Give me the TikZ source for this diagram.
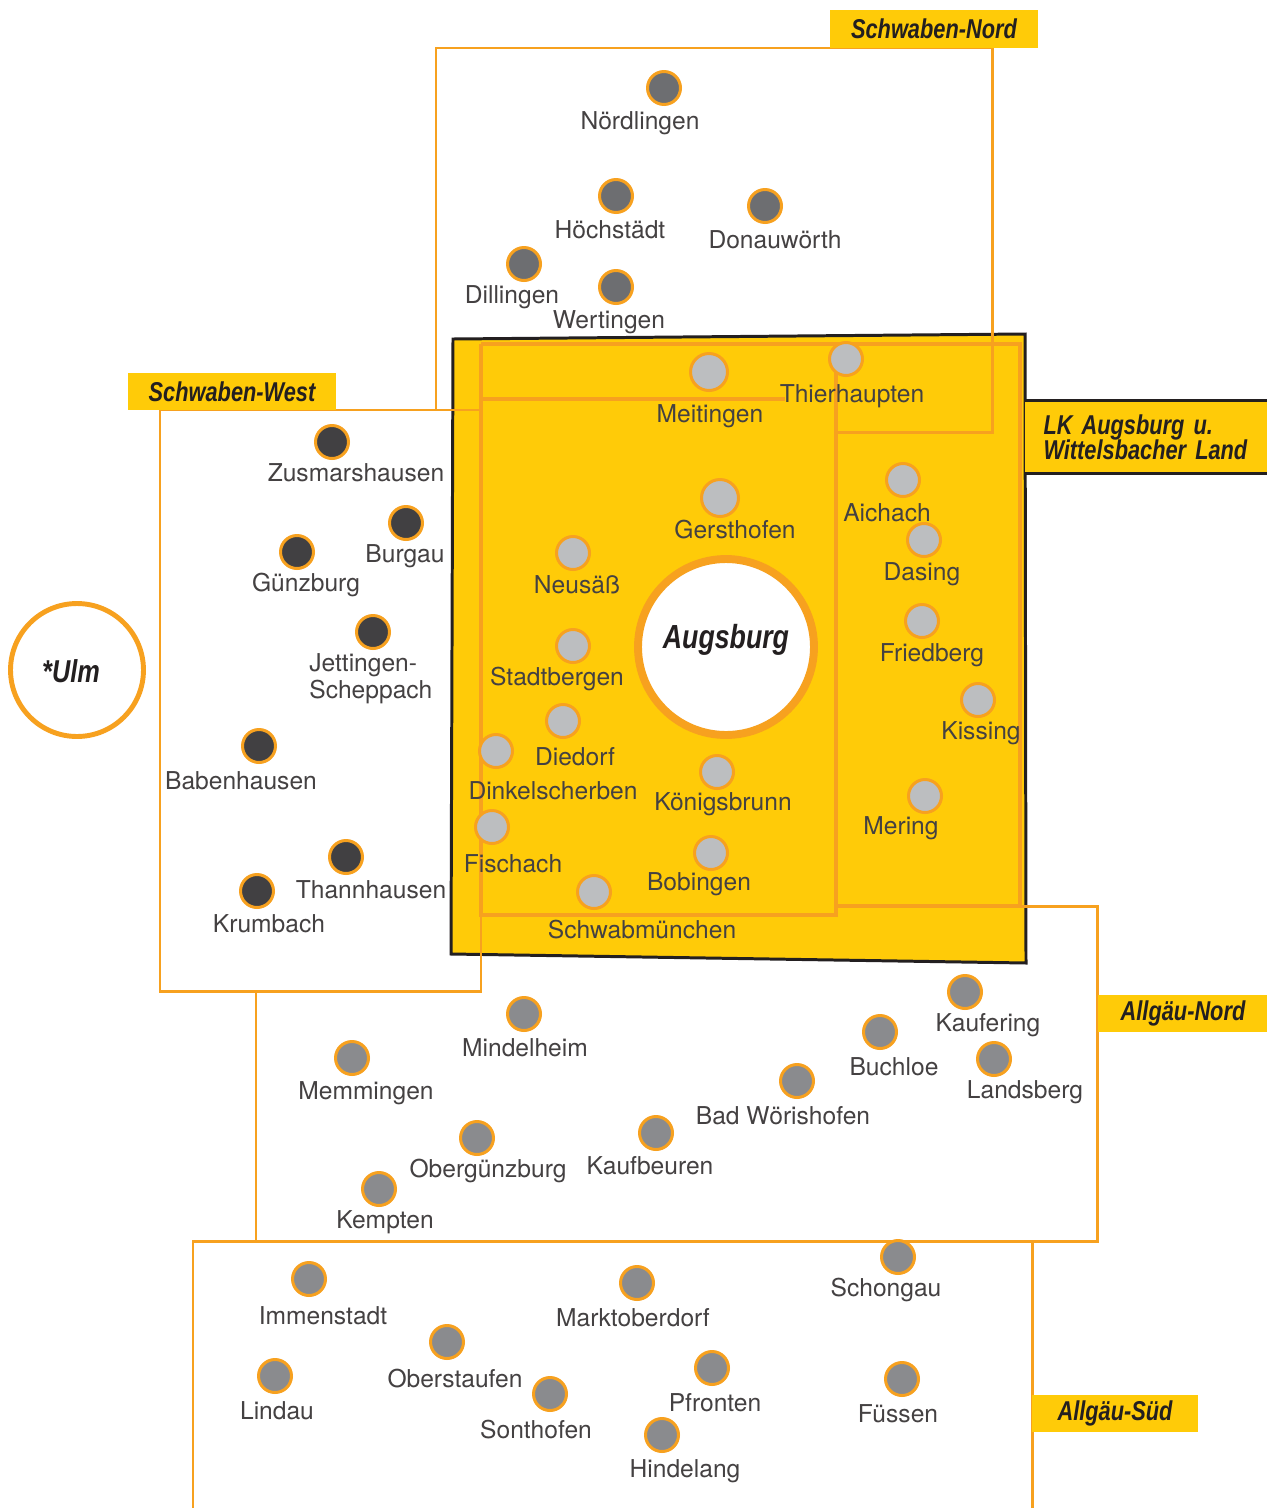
\documentclass[tikz,border=0pt]{standalone}
\usepackage{fontspec}
\setmainfont{TeX Gyre Heros}
\newfontfamily\regionfont[FakeStretch=0.8]{Liberation Sans}
\definecolor{lkyellow}{HTML}{FFCB08}
\definecolor{lkorange}{HTML}{F7A11F}
\definecolor{inkblack}{HTML}{231F20}
\definecolor{nordgrey}{HTML}{6D6E71}
\definecolor{westgrey}{HTML}{414042}
\definecolor{allgaeugrey}{HTML}{8A8B8E}
\definecolor{lkgrey}{HTML}{BCBEC0}
\tikzset{
  townpt/.style = {circle, draw=lkorange, line width=1.7pt, minimum size=0.66cm, inner sep=0pt},
  nordpt/.style = {townpt, fill=nordgrey},
  westpt/.style = {townpt, fill=westgrey},
  lkpt/.style = {townpt, fill=lkgrey},
  allgaeupt/.style = {townpt, fill=allgaeugrey},
  townlbl/.style = {text=inkblack!85, font=\fontsize{14}{15.3}\selectfont, inner sep=0pt, yshift=-1pt},
  regionlbl/.style = {fill=lkyellow, text=inkblack, inner sep=0pt,
    font=\regionfont\bfseries\itshape\fontsize{15.5}{17}\selectfont},
  thinline/.style = {draw=lkorange, line width=1.7pt},
  thickline/.style = {draw=lkorange, line width=2.8pt}
}
\begin{document}
\begin{tikzpicture}[x=0.02cm, y=-0.02cm]
  \fill[white] (0,0) rectangle (1267,1508);
  \useasboundingbox (0,0) rectangle (1267,1508);

  \fill[lkyellow, draw=inkblack, line width=1.7pt] (453,339) -- (1025,334) -- (1026,963) -- (451,954) -- cycle;
  \draw[thickline] (481,344) -- (1020,344) -- (1020,906) -- (836,906);
  \draw[thickline] (836,344) -- (836,915) -- (481,915) -- (481,344);
  \draw[thickline] (481,399) -- (785,399);

  \draw[thinline] (436,410) -- (436,48) -- (992,48) -- (992,432) -- (836,432);
  \draw[thinline] (160,410) rectangle (481,991);
  \draw[thinline] (256,991) -- (256,1241) -- (1097,1241) -- (1097,906) -- (1020,906);
  \draw[thinline] (193,1508) -- (193,1241) -- (1032,1241) -- (1032,1508);

  \node[regionlbl, minimum width=4.16cm, minimum height=0.76cm] (nord) at (934,29) {Schwaben-Nord};
  \node[regionlbl, minimum width=4.16cm, minimum height=0.74cm] (west) at (232,391.5) {Schwaben-West};
  \node[regionlbl, minimum width=4.84cm, minimum height=1.44cm, align=left, text width=4.1cm] (lk) at (1146,437) {LK Augsburg u.\\[-3pt]Wittelsbacher Land};
  \draw[inkblack, line width=1.7pt] (lk.north west) -- (lk.north east);
  \draw[inkblack, line width=1.7pt] (lk.south west) -- (lk.south east);
  \node[regionlbl, minimum width=3.4cm, minimum height=0.74cm] (anord) at (1183,1013.5) {Allgäu-Nord};
  \node[regionlbl, minimum width=3.32cm, minimum height=0.74cm] (asued) at (1115,1413.5) {Allgäu-Süd};

  \node[circle, draw=lkorange, fill=white, line width=4.5pt, minimum size=3.52cm] (augsburg) at (726,647) {};
  \node[regionlbl, fill=none, font=\regionfont\bfseries\itshape\fontsize{19}{21}\selectfont] (augsburg txt) at (726,640) {Augsburg};
  \node[circle, draw=lkorange, line width=2.8pt, minimum size=2.66cm] (ulm) at (77,670) {};
  \node[regionlbl, fill=none, font=\regionfont\bfseries\itshape\fontsize{18}{20}\selectfont] (ulm txt) at (71,671) {*Ulm};

  \node[nordpt] (noerdlingen) at (664,88) {};
  \node[nordpt] (hoechstaedt) at (616,196) {};
  \node[nordpt] (donauwoerth) at (765,206) {};
  \node[nordpt] (dillingen) at (524,264) {};
  \node[nordpt] (wertingen) at (616,287) {};
  \node[townlbl] (noerdlingen txt) at (640,121) {Nördlingen};
  \node[townlbl] (hoechstaedt txt) at (610,228) {Höchstädt};
  \node[townlbl] (donauwoerth txt) at (775,238) {Donauwörth};
  \node[townlbl] (dillingen txt) at (512,295) {Dillingen};
  \node[townlbl] (wertingen txt) at (609,320) {Wertingen};

  \node[lkpt, minimum size=0.74cm] (meitingen) at (709,372) {};
  \node[lkpt] (thierhaupten) at (846,359) {};
  \node[lkpt, minimum size=0.74cm] (gersthofen) at (720,498) {};
  \node[lkpt] (aichach) at (903,480) {};
  \node[lkpt] (dasing) at (924,540) {};
  \node[lkpt] (neusaess) at (573,553) {};
  \node[lkpt] (friedberg) at (922,621) {};
  \node[lkpt] (stadtbergen) at (573,646) {};
  \node[lkpt] (kissing) at (978,700) {};
  \node[lkpt] (diedorf) at (563,721) {};
  \node[lkpt] (dinkelscherben) at (496,751) {};
  \node[lkpt] (koenigsbrunn) at (717,772) {};
  \node[lkpt] (mering) at (925,796) {};
  \node[lkpt] (fischach) at (492,827) {};
  \node[lkpt] (bobingen) at (711,853) {};
  \node[lkpt] (schwabmuenchen) at (594,892) {};
  \node[townlbl] (meitingen txt) at (710,414) {Meitingen};
  \node[townlbl] (thierhaupten txt) at (852,394) {Thierhaupten};
  \node[townlbl] (gersthofen txt) at (735,528) {Gersthofen};
  \node[townlbl] (aichach txt) at (887,511) {Aichach};
  \node[townlbl] (dasing txt) at (922,572) {Dasing};
  \node[townlbl] (neusaess txt) at (577,583) {Neusäß};
  \node[townlbl] (friedberg txt) at (932,653) {Friedberg};
  \node[townlbl] (stadtbergen txt) at (557,677) {Stadtbergen};
  \node[townlbl] (kissing txt) at (981,731) {Kissing};
  \node[townlbl] (diedorf txt) at (575,755) {Diedorf};
  \node[townlbl] (dinkelscherben txt) at (553,789) {Dinkelscherben};
  \node[townlbl] (koenigsbrunn txt) at (723,802) {Königsbrunn};
  \node[townlbl] (mering txt) at (901,826) {Mering};
  \node[townlbl] (fischach txt) at (513,862) {Fischach};
  \node[townlbl] (bobingen txt) at (699,882) {Bobingen};
  \node[townlbl] (schwabmuenchen txt) at (642,928) {Schwabmünchen};

  \node[westpt] (zusmarshausen) at (332,442) {};
  \node[westpt] (burgau) at (406,523) {};
  \node[westpt] (guenzburg) at (297,552) {};
  \node[westpt] (jettingen) at (373,632) {};
  \node[westpt] (babenhausen) at (259,746) {};
  \node[westpt] (thannhausen) at (346,857) {};
  \node[westpt] (krumbach) at (257,891) {};
  \node[townlbl] (zusmarshausen txt) at (356,471) {Zusmarshausen};
  \node[townlbl] (burgau txt) at (405,554) {Burgau};
  \node[townlbl] (guenzburg txt) at (306,583) {Günzburg};
  \node[townlbl, align=left, anchor=west] (jettingen txt) at (309,677) {Jettingen-\\Scheppach};
  \node[townlbl] (babenhausen txt) at (241,779) {Babenhausen};
  \node[townlbl] (thannhausen txt) at (371,888) {Thannhausen};
  \node[townlbl] (krumbach txt) at (269,922) {Krumbach};

  \node[allgaeupt] (mindelheim) at (524,1014) {};
  \node[allgaeupt] (kaufering) at (965,992) {};
  \node[allgaeupt] (buchloe) at (880,1032) {};
  \node[allgaeupt] (landsberg) at (994,1059) {};
  \node[allgaeupt] (memmingen) at (352,1058) {};
  \node[allgaeupt] (woerishofen) at (797,1081) {};
  \node[allgaeupt] (oberguenzburg) at (477,1138) {};
  \node[allgaeupt] (kaufbeuren) at (656,1133) {};
  \node[allgaeupt] (kempten) at (379,1189) {};
  \node[townlbl] (mindelheim txt) at (525,1046) {Mindelheim};
  \node[townlbl] (kaufering txt) at (988,1023) {Kaufering};
  \node[townlbl] (buchloe txt) at (894,1065) {Buchloe};
  \node[townlbl] (landsberg txt) at (1025,1090) {Landsberg};
  \node[townlbl] (memmingen txt) at (366,1091) {Memmingen};
  \node[townlbl] (woerishofen txt) at (783,1114) {Bad Wörishofen};
  \node[townlbl] (oberguenzburg txt) at (488,1169) {Obergünzburg};
  \node[townlbl] (kaufbeuren txt) at (650,1164) {Kaufbeuren};
  \node[townlbl] (kempten txt) at (385,1220) {Kempten};

  \node[allgaeupt] (schongau) at (898,1257) {};
  \node[allgaeupt] (immenstadt) at (309,1279) {};
  \node[allgaeupt] (marktoberdorf) at (637,1283) {};
  \node[allgaeupt] (oberstaufen) at (447,1342) {};
  \node[allgaeupt] (pfronten) at (712,1368) {};
  \node[allgaeupt] (lindau) at (275,1376) {};
  \node[allgaeupt] (fuessen) at (902,1379) {};
  \node[allgaeupt] (sonthofen) at (550,1394) {};
  \node[allgaeupt] (hindelang) at (662,1435) {};
  \node[townlbl] (schongau txt) at (886,1288) {Schongau};
  \node[townlbl] (immenstadt txt) at (323,1314) {Immenstadt};
  \node[townlbl] (marktoberdorf txt) at (633,1316) {Marktoberdorf};
  \node[townlbl] (oberstaufen txt) at (455,1377) {Oberstaufen};
  \node[townlbl] (pfronten txt) at (715,1401) {Pfronten};
  \node[townlbl] (lindau txt) at (277,1409) {Lindau};
  \node[townlbl] (fuessen txt) at (898,1412) {Füssen};
  \node[townlbl] (sonthofen txt) at (536,1428) {Sonthofen};
  \node[townlbl] (hindelang txt) at (685,1469) {Hindelang};
\end{tikzpicture}
\end{document}
